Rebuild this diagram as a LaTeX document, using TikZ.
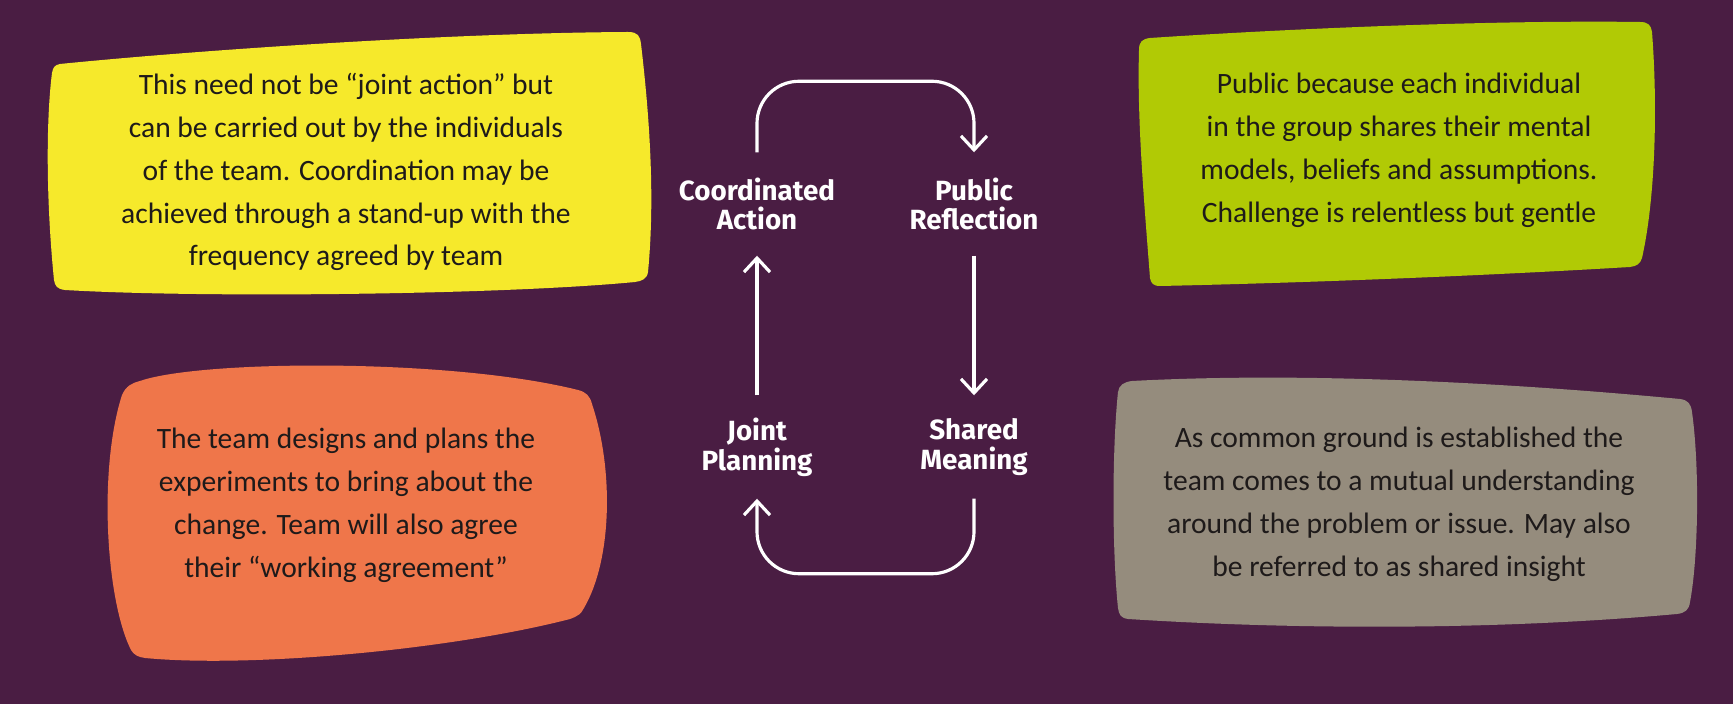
\documentclass[tikz,border=0pt]{standalone}
\usepackage{fontspec}
\newfontfamily\bodyfont{Carlito}
\newfontfamily\labfont{Fira Sans}
\usetikzlibrary{arrows.meta}
\definecolor{bg}{HTML}{4A1D43}
\definecolor{cyellow}{HTML}{F6E92B}
\definecolor{clime}{HTML}{B1CA05}
\definecolor{corange}{HTML}{EF764A}
\definecolor{cgrey}{HTML}{958C7D}
\definecolor{ctext}{HTML}{1E1A1A}
\tikzset{
  bodytext/.style={align=center, text=ctext, inner sep=0pt,
    font=\bodyfont\fontsize{8.4pt}{12.2pt}\selectfont},
  steplabel/.style={align=center, text=white, inner sep=0pt, minimum height=1.02cm,
    font=\labfont\bfseries\fontsize{7.9pt}{8.5pt}\selectfont},
  cyc/.style={draw=white, line width=0.9pt,
    -{Straight Barb[length=1.4mm,width=2.6mm]}}
}
\begin{document}
\begin{tikzpicture}[x=0.01cm,y=-0.01cm]
\useasboundingbox (0,0) rectangle (1733,704);
\fill[bg] (0,0) rectangle (1733,704);

% yellow blob
\fill[cyellow] (60,64) .. controls (200,50) and (450,33) .. (628,32)
  .. controls (638,32) and (640,36) .. (641,44)
  .. controls (650,120) and (655,200) .. (648,272)
  .. controls (647,279) and (642,281) .. (635,282)
  .. controls (500,295) and (200,298) .. (65,290)
  .. controls (57,289) and (55,286) .. (54,280)
  .. controls (46,200) and (46,120) .. (52,73)
  .. controls (53,67) and (55,65) .. (60,64) -- cycle;

% lime blob
\fill[clime] (1150,38) .. controls (1300,28) and (1500,20) .. (1640,22)
  .. controls (1648,22) and (1651,25) .. (1652,32)
  .. controls (1658,110) and (1655,200) .. (1642,258)
  .. controls (1640,264) and (1637,266) .. (1630,267)
  .. controls (1480,276) and (1300,283) .. (1160,286)
  .. controls (1153,286) and (1151,283) .. (1150,278)
  .. controls (1144,200) and (1137,120) .. (1139,50)
  .. controls (1139,42) and (1142,39) .. (1150,38) -- cycle;

% orange blob
\fill[corange] (140,381) .. controls (200,360) and (450,358) .. (578,390)
  .. controls (586,392) and (590,396) .. (592,404)
  .. controls (614,470) and (612,560) .. (584,608)
  .. controls (581,614) and (578,616) .. (570,619)
  .. controls (450,650) and (250,668) .. (145,658)
  .. controls (138,657) and (134,655) .. (131,650)
  .. controls (106,600) and (98,470) .. (122,395)
  .. controls (126,386) and (132,383) .. (140,381) -- cycle;

% grey blob
\fill[cgrey] (1132,381) .. controls (1300,372) and (1500,382) .. (1680,399)
  .. controls (1688,400) and (1691,404) .. (1692,412)
  .. controls (1700,470) and (1698,560) .. (1690,602)
  .. controls (1689,610) and (1685,613) .. (1677,614)
  .. controls (1500,630) and (1300,630) .. (1128,619)
  .. controls (1121,618) and (1119,615) .. (1118,608)
  .. controls (1112,550) and (1112,450) .. (1118,392)
  .. controls (1119,385) and (1124,382) .. (1132,381) -- cycle;

% texts
\node[bodytext] (ty) at (346,172) {This need not be “joint action” but\\can be carried out by the individuals\\of the team. Coordination may be\\achieved through a stand-up with the\\frequency agreed by team};
\node[bodytext] (tl) at (1399,150) {Public because each individual\\in the group shares their mental\\models, beliefs and assumptions.\\Challenge is relentless but gentle};
\node[bodytext] (to) at (346,505) {The team designs and plans the\\experiments to bring about the\\change. Team will also agree\\their “working agreement”};
\node[bodytext] (tg) at (1399,504) {As common ground is established the\\team comes to a mutual understanding\\around the problem or issue. May also\\be referred to as shared insight};

% cycle labels
\node[steplabel] (ca) at (757,204) {Coordinated\\Action};
\node[steplabel] (pr) at (974,204) {Public\\Reflection};
\node[steplabel] (jp) at (757,447) {Joint\\Planning};
\node[steplabel] (sm) at (974,447) {Shared\\Meaning};

% connectors
\draw[cyc, rounded corners=4.2mm] (ca.north) -- ++(0,-71) -| (pr.north);
\draw[cyc] (pr.south) -- (sm.north);
\draw[cyc, rounded corners=4.2mm] (sm.south) -- ++(0,75) -| (jp.south);
\draw[cyc] (jp.north) -- (ca.south);
\end{tikzpicture}
\end{document}
